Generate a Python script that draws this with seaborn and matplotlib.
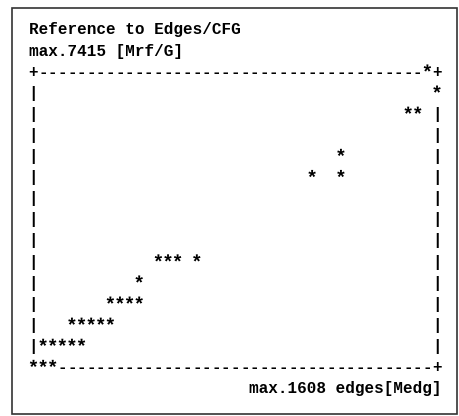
import numpy as np
import matplotlib
matplotlib.use("Agg")
import matplotlib.pyplot as plt
import seaborn as sns
from matplotlib.textpath import TextPath
from matplotlib.font_manager import FontProperties
from matplotlib.path import Path
from matplotlib.patches import Rectangle

sns.set_theme(style="white")
plt.rcParams["font.family"] = ["Liberation Mono", "DejaVu Sans Mono"]

TITLE = "Reference to Edges/CFG"
Y_LABEL = "max.7415 [Mrf/G]"
X_LABEL = "max.1608 edges[Medg]"

# star cells of the text plot: column (0 = left frame) and row (0 = bottom frame, 14 = top frame)
star_col = [0, 1, 2, 1, 2, 3, 4, 5, 4, 5, 6, 7, 8, 8, 9, 10, 11, 11,
            13, 14, 15, 17, 29, 32, 32, 39, 40, 42, 41]
star_row = [0, 0, 0, 1, 1, 1, 1, 1, 2, 2, 2, 2, 2, 3, 3, 3, 3, 4,
            5, 5, 5, 5, 9, 9, 10, 12, 12, 13, 14]

N_COLS = 42  # column of the right frame
N_ROWS = 14  # row of the top frame

# text grid geometry (pixels)
W, H = 459, 416
CHAR_W = 9.607
LINE_H = 21.1
COL0_X = 33.5          # centre of column 0
TOP_BASE = 76.7        # baseline of the top frame row
FS = CHAR_W / 0.6 * 0.72  # font size giving CHAR_W advance at dpi 100

fig = plt.figure(figsize=(W / 100, H / 100), dpi=100)
ax = fig.add_axes([0, 0, 1, 1])
xlim = (-COL0_X / CHAR_W, (W - COL0_X) / CHAR_W)
ylim = (N_ROWS - (H - TOP_BASE) / LINE_H, N_ROWS + TOP_BASE / LINE_H)
ax.axis("off")

# frame drawn as characters, leaving cells where a star sits
occupied = set(zip(star_col, star_row))
for r in range(N_ROWS + 1):
    for c in range(N_COLS + 1):
        if (c, r) in occupied:
            continue
        if r in (0, N_ROWS):
            ch = "+" if c in (0, N_COLS) else "-"
        elif c in (0, N_COLS):
            ch = "|"
        else:
            continue
        ax.text(c, r, ch, ha="center", va="baseline", fontsize=FS,
                fontweight="bold", color="black")

# star marker: the '*' glyph, kept relative to its baseline and cell centre
prop = FontProperties(family="Liberation Mono", weight="bold")
tp = TextPath((0, 0), "*", size=1, prop=prop)
verts = tp.vertices.copy()
verts[:, 0] -= 0.3
cy = (verts[:, 1].min() + verts[:, 1].max()) / 2
verts[:, 1] = cy + (verts[:, 1] - cy) * 1.2 - 0.03
verts[:, 0] *= 1.2
star = Path(verts, tp.codes)
rescale = np.max(np.abs(verts))
size = (2 * rescale * FS) ** 2

sns.scatterplot(x=star_col, y=star_row, marker=star, s=size, color="black",
                linewidth=0, edgecolor="none", ax=ax)
ax.set_xlim(*xlim)
ax.set_ylim(*ylim)

ax.text(-0.5, N_ROWS + 2, TITLE, ha="left", va="baseline", fontsize=FS,
        fontweight="bold", color="black")
ax.text(-0.5, N_ROWS + 1, Y_LABEL, ha="left", va="baseline", fontsize=FS,
        fontweight="bold", color="black")
ax.text(N_COLS + 0.5, -1, X_LABEL, ha="right", va="baseline", fontsize=FS,
        fontweight="bold", color="black")

fig.add_artist(Rectangle((12 / W, 2 / H), (457 - 12) / W, (414 - 8) / H,
                         transform=fig.transFigure, fill=False,
                         edgecolor="#333333", linewidth=1.2))

fig.savefig("out.png", dpi=100)
